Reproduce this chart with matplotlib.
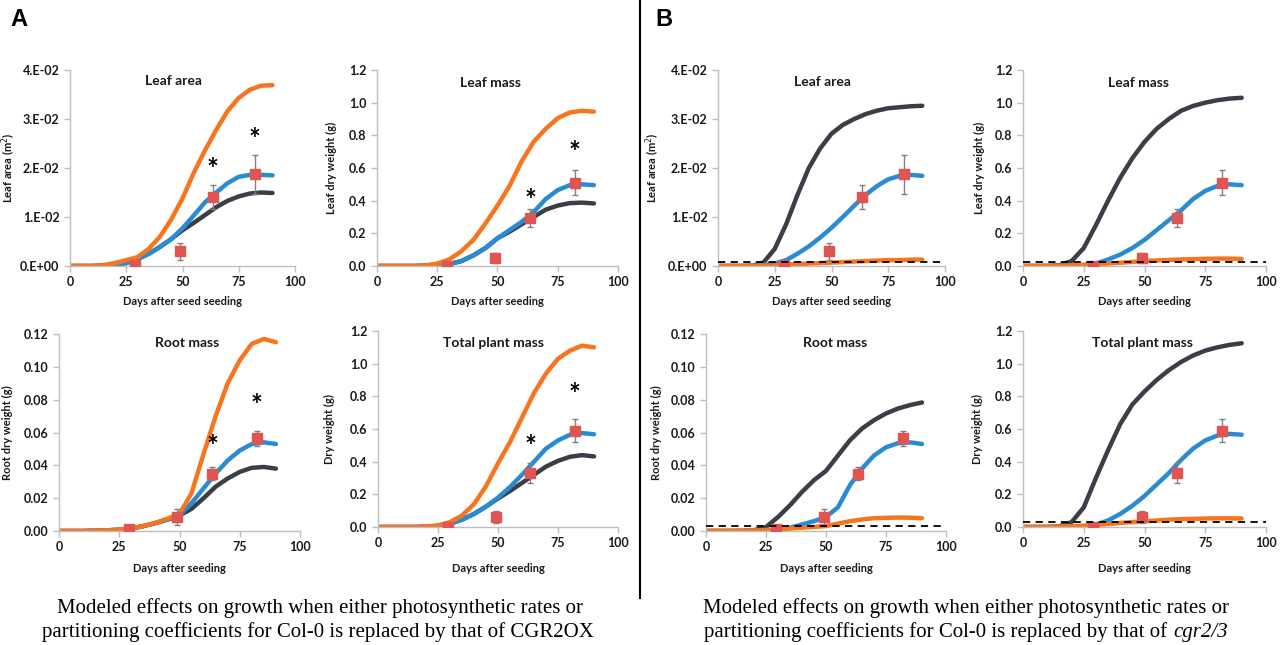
import matplotlib
matplotlib.use("Agg")
import matplotlib.pyplot as plt

plt.rcParams['font.family'] = ['Lato', 'DejaVu Sans']

days = [0, 5, 10, 15, 20, 25, 30, 35, 40, 45, 50, 55, 60, 65, 70, 75, 80, 85, 90]
x_ticks = [0, 25, 50, 75, 100]

# ---- observed data (same for A and B) ----
obs_days = [29, 49, 63.5, 82]
obs_leaf_area = [0.0003, 0.003, 0.0141, 0.0187]
obs_leaf_area_err = [0.0002, 0.0017, 0.0025, 0.004]
obs_leaf_mass = [0.0, 0.05, 0.295, 0.51]
obs_leaf_mass_err = [0.005, 0.03, 0.055, 0.078]
obs_root_mass = [0.001, 0.0085, 0.035, 0.0565]
obs_root_mass_err = [0.0005, 0.005, 0.004, 0.0045]
obs_total_mass = [0.0, 0.06, 0.33, 0.59]
obs_total_mass_err = [0.005, 0.035, 0.06, 0.07]

# ---- Panel A model curves ----
A_leaf_area_orange = [0, 0, 0, 0.0002, 0.0006, 0.0012, 0.0018, 0.0035, 0.006, 0.0095, 0.0138, 0.019, 0.0236, 0.0278, 0.0316, 0.0343, 0.036, 0.0368, 0.0369]
A_leaf_area_blue = [0, 0, 0, 0.0001, 0.0003, 0.0006, 0.0014, 0.0025, 0.0039, 0.0055, 0.0077, 0.0103, 0.013, 0.015, 0.0169, 0.0182, 0.0186, 0.0186, 0.0185]
A_leaf_area_black = [0, 0, 0, 0.0001, 0.0003, 0.0006, 0.0014, 0.0025, 0.0039, 0.0055, 0.0073, 0.0088, 0.0104, 0.012, 0.0133, 0.0142, 0.0148, 0.0150, 0.0149]

A_leaf_mass_orange = [0, 0, 0, 0, 0.003, 0.015, 0.04, 0.09, 0.16, 0.26, 0.37, 0.49, 0.64, 0.76, 0.84, 0.905, 0.94, 0.95, 0.945]
A_leaf_mass_blue = [0, 0, 0, 0, 0.002, 0.006, 0.012, 0.03, 0.065, 0.11, 0.17, 0.22, 0.27, 0.33, 0.41, 0.465, 0.495, 0.50, 0.495]
A_leaf_mass_black = [0, 0, 0, 0, 0.002, 0.006, 0.012, 0.03, 0.065, 0.11, 0.17, 0.21, 0.255, 0.30, 0.345, 0.37, 0.385, 0.388, 0.383]

A_root_mass_orange = [0, 0, 0, 0.0002, 0.0004, 0.0008, 0.0015, 0.003, 0.005, 0.0075, 0.0105, 0.023, 0.047, 0.070, 0.090, 0.104, 0.114, 0.117, 0.115]
A_root_mass_blue = [0, 0, 0, 0.0002, 0.0004, 0.0008, 0.0015, 0.003, 0.0048, 0.007, 0.0095, 0.017, 0.026, 0.035, 0.043, 0.049, 0.053, 0.054, 0.053]
A_root_mass_black = [0, 0, 0, 0.0002, 0.0004, 0.0008, 0.0015, 0.003, 0.0048, 0.007, 0.0095, 0.0135, 0.020, 0.027, 0.032, 0.036, 0.0385, 0.039, 0.038]

A_total_mass_orange = [0, 0, 0, 0, 0.003, 0.01, 0.03, 0.07, 0.14, 0.25, 0.39, 0.52, 0.67, 0.82, 0.94, 1.03, 1.08, 1.11, 1.10]
A_total_mass_blue = [0, 0, 0, 0, 0.002, 0.006, 0.02, 0.045, 0.08, 0.125, 0.18, 0.245, 0.32, 0.40, 0.48, 0.53, 0.565, 0.575, 0.568]
A_total_mass_black = [0, 0, 0, 0, 0.002, 0.006, 0.02, 0.045, 0.08, 0.125, 0.175, 0.22, 0.27, 0.32, 0.37, 0.405, 0.43, 0.44, 0.432]

# ---- Panel B model curves ----
B_leaf_area_black = [0, 0, 0, 0.00005, 0.0007, 0.0035, 0.0085, 0.0145, 0.0200, 0.0240, 0.0270, 0.0288, 0.0300, 0.0310, 0.0317, 0.0322, 0.0324, 0.0326, 0.0327]
B_leaf_area_blue = [0, 0, 0, 0.00005, 0.0002, 0.0005, 0.0012, 0.0025, 0.0040, 0.0058, 0.0078, 0.0100, 0.0123, 0.0145, 0.0163, 0.0177, 0.0184, 0.0186, 0.0184]
B_leaf_area_orange = [0, 0.00001, 0.00002, 0.00004, 0.00007, 0.0001, 0.0003, 0.0004, 0.0005, 0.0006, 0.0007, 0.0008, 0.0009, 0.001, 0.0011, 0.0012, 0.0012, 0.0013, 0.0013]
B_leaf_area_cut = 0.00082

B_leaf_mass_black = [0, 0, 0, 0.005, 0.03, 0.11, 0.25, 0.40, 0.54, 0.66, 0.76, 0.84, 0.90, 0.95, 0.98, 1.00, 1.015, 1.025, 1.03]
B_leaf_mass_blue = [0, 0, 0, 0.001, 0.002, 0.005, 0.015, 0.04, 0.07, 0.11, 0.16, 0.22, 0.28, 0.34, 0.41, 0.46, 0.49, 0.50, 0.495]
B_leaf_mass_orange = [0, 0.0005, 0.001, 0.002, 0.004, 0.007, 0.01, 0.015, 0.02, 0.025, 0.03, 0.034, 0.037, 0.04, 0.042, 0.044, 0.045, 0.045, 0.043]
B_leaf_mass_cut = 0.027

B_root_mass_black = [0, 0, 0, 0.0001, 0.0005, 0.0024, 0.0085, 0.0157, 0.0238, 0.031, 0.0366, 0.046, 0.0553, 0.0624, 0.0675, 0.0716, 0.0746, 0.0767, 0.0783]
B_root_mass_blue = [0, 0, 0, 0.0001, 0.0002, 0.0003, 0.001, 0.002, 0.004, 0.006, 0.0085, 0.0145, 0.028, 0.038, 0.046, 0.051, 0.0535, 0.054, 0.053]
B_root_mass_orange = [0, 0.0001, 0.0001, 0.0002, 0.0003, 0.0006, 0.001, 0.0015, 0.002, 0.0025, 0.003, 0.0045, 0.006, 0.007, 0.0078, 0.008, 0.0082, 0.0081, 0.0078]
B_root_mass_cut = 0.003

B_total_mass_black = [0, 0, 0, 0.005, 0.03, 0.12, 0.30, 0.47, 0.63, 0.75, 0.83, 0.90, 0.96, 1.01, 1.05, 1.08, 1.10, 1.115, 1.125]
B_total_mass_blue = [0, 0, 0, 0.001, 0.002, 0.005, 0.015, 0.04, 0.08, 0.13, 0.19, 0.26, 0.33, 0.41, 0.48, 0.53, 0.56, 0.57, 0.565]
B_total_mass_orange = [0, 0.0005, 0.001, 0.003, 0.005, 0.008, 0.012, 0.018, 0.025, 0.03, 0.035, 0.04, 0.045, 0.048, 0.05, 0.052, 0.053, 0.053, 0.052]
B_total_mass_cut = 0.028

# significance stars (panel A)
star_days = [63.5, 82]
A_leaf_area_stars = [0.0195, 0.0257]
A_leaf_mass_stars = [0.40, 0.69]
A_root_mass_stars = [0.051, 0.076]
A_total_mass_stars = [0.49, 0.81]

# axis ticks
leaf_area_ticks = [0, 0.01, 0.02, 0.03, 0.04]
leaf_area_ticklabels = ['0.E+00', '1.E-02', '2.E-02', '3.E-02', '4.E-02']
mass_ticks = [0, 0.2, 0.4, 0.6, 0.8, 1.0, 1.2]
mass_ticklabels = ['0.0', '0.2', '0.4', '0.6', '0.8', '1.0', '1.2']
root_ticks = [0, 0.02, 0.04, 0.06, 0.08, 0.10, 0.12]
root_ticklabels = ['0.00', '0.02', '0.04', '0.06', '0.08', '0.10', '0.12']

ORANGE = '#F7751E'
BLUE = '#2A8BD3'
BLACK = '#3A3E47'
RED = '#E05452'
GRAY = '#BFBFBF'

W, H = 1286, 645
fig = plt.figure(figsize=(W / 100, H / 100), dpi=100)


def make_ax(x0, x1, y0, y1):
    return fig.add_axes([x0 / W, 1 - y1 / H, (x1 - x0) / W, (y1 - y0) / H])


def panel(box, curves, obs, err, ticks, ticklabels, title, title_xy, ylabel, ylab_off,
          xlabel, xlab_off, stars=None, cut=None):
    ax = make_ax(*box)
    wpx = box[1] - box[0]
    hpx = box[3] - box[2]
    for vals, col in curves:
        ax.plot(days, vals, color=col, lw=3.2, solid_capstyle='round', zorder=2)
    if cut is not None:
        ax.plot([0, 100], [cut, cut], color='black', lw=1.3, ls=(0, (4, 3)), zorder=5)
    ax.errorbar(obs_days, obs, yerr=err, fmt='s', color=RED, ms=7, mec=RED,
                ecolor='#808080', elinewidth=1, capsize=2.5, capthick=1, zorder=4)
    if stars is not None:
        for d, s in zip(star_days, stars):
            ax.text(d, s, '*', ha='center', va='center', fontsize=20, fontweight='bold',
                    color='black', zorder=6)
    ax.set_xlim(0, 100)
    ax.set_ylim(ticks[0], ticks[-1])
    ax.set_xticks(x_ticks)
    ax.set_xticklabels([str(t) for t in x_ticks])
    ax.set_yticks(ticks)
    ax.set_yticklabels(ticklabels)
    for s in ['top', 'right']:
        ax.spines[s].set_visible(False)
    for s in ['left', 'bottom']:
        ax.spines[s].set_color(GRAY)
        ax.spines[s].set_linewidth(1)
    ax.tick_params(axis='both', colors=GRAY, labelcolor='#1a1a1a', length=4, width=1,
                   labelsize=9)
    for lab in ax.get_xticklabels() + ax.get_yticklabels():
        lab.set_fontweight('bold')
    ax.set_ylabel(ylabel, fontsize=8, fontweight='bold', color='#1a1a1a')
    ax.yaxis.set_label_coords(-ylab_off / wpx, 0.5)
    ax.set_xlabel(xlabel, fontsize=8, fontweight='bold', color='#1a1a1a')
    ax.xaxis.set_label_coords(0.5, -xlab_off / hpx)
    ax.text(title_xy[0], title_xy[1], title, transform=ax.transAxes, ha='center',
            va='center', fontsize=10, fontweight='bold', color='#1a1a1a')
    ax.patch.set_alpha(0)
    return ax


lab_top = 'Days after seed seeding'
lab_bot = 'Days after seeding'

# Panel A
panel((70, 295, 70, 266),
      [(A_leaf_area_black, BLACK), (A_leaf_area_blue, BLUE), (A_leaf_area_orange, ORANGE)],
      obs_leaf_area, obs_leaf_area_err, leaf_area_ticks, leaf_area_ticklabels,
      'Leaf area', (0.458, 0.944), 'Leaf area (m$^2$)', 52, lab_top, 30,
      stars=A_leaf_area_stars)
panel((377, 618, 70, 266),
      [(A_leaf_mass_black, BLACK), (A_leaf_mass_blue, BLUE), (A_leaf_mass_orange, ORANGE)],
      obs_leaf_mass, obs_leaf_mass_err, mass_ticks, mass_ticklabels,
      'Leaf mass', (0.473, 0.934), 'Leaf dry weight (g)', 40, lab_bot, 30,
      stars=A_leaf_mass_stars)
panel((59, 300, 334, 531),
      [(A_root_mass_black, BLACK), (A_root_mass_blue, BLUE), (A_root_mass_orange, ORANGE)],
      obs_root_mass, obs_root_mass_err, root_ticks, root_ticklabels,
      'Root mass', (0.53, 0.954), 'Root dry weight (g)', 46, lab_bot, 32,
      stars=A_root_mass_stars)
panel((378, 618, 331, 527),
      [(A_total_mass_black, BLACK), (A_total_mass_blue, BLUE), (A_total_mass_orange, ORANGE)],
      obs_total_mass, obs_total_mass_err, mass_ticks, mass_ticklabels,
      'Total plant mass', (0.483, 0.939), 'Dry weight (g)', 43, lab_bot, 36,
      stars=A_total_mass_stars)

# Panel B
panel((718, 945, 70, 266),
      [(B_leaf_area_black, BLACK), (B_leaf_area_blue, BLUE), (B_leaf_area_orange, ORANGE)],
      obs_leaf_area, obs_leaf_area_err, leaf_area_ticks, leaf_area_ticklabels,
      'Leaf area', (0.458, 0.939), 'Leaf area (m$^2$)', 56, lab_top, 30,
      cut=B_leaf_area_cut)
panel((1023, 1266, 70, 266),
      [(B_leaf_mass_black, BLACK), (B_leaf_mass_blue, BLUE), (B_leaf_mass_orange, ORANGE)],
      obs_leaf_mass, obs_leaf_mass_err, mass_ticks, mass_ticklabels,
      'Leaf mass', (0.477, 0.934), 'Leaf dry weight (g)', 38, lab_bot, 30,
      cut=B_leaf_mass_cut)
panel((706, 946, 334, 531),
      [(B_root_mass_black, BLACK), (B_root_mass_blue, BLUE), (B_root_mass_orange, ORANGE)],
      obs_root_mass, obs_root_mass_err, root_ticks, root_ticklabels,
      'Root mass', (0.538, 0.954), 'Root dry weight (g)', 44, lab_bot, 32,
      cut=B_root_mass_cut)
panel((1023, 1266, 331, 527),
      [(B_total_mass_black, BLACK), (B_total_mass_blue, BLUE), (B_total_mass_orange, ORANGE)],
      obs_total_mass, obs_total_mass_err, mass_ticks, mass_ticklabels,
      'Total plant mass', (0.49, 0.939), 'Dry weight (g)', 40, lab_bot, 36,
      cut=B_total_mass_cut)

# Panel letters
fig.text(10 / W, 1 - 20 / H, 'A', fontsize=17, fontweight='bold', va='center', ha='left',
         family=['Liberation Sans', 'DejaVu Sans'])
fig.text(655 / W, 1 - 20 / H, 'B', fontsize=17, fontweight='bold', va='center', ha='left',
         family=['Liberation Sans', 'DejaVu Sans'])

# Divider
fig.add_artist(plt.Line2D([640 / W, 640 / W], [1 - 598 / H, 1.0], color='black', lw=1.5,
                          transform=fig.transFigure))

# Captions
serif = ['Liberation Serif', 'DejaVu Serif']
cap_fs = 15
fig.text(320 / W, 1 - 608 / H,
         'Modeled effects on growth when either photosynthetic rates or',
         ha='center', va='center', fontsize=cap_fs, family=serif)
fig.text(318 / W, 1 - 632 / H,
         'partitioning coefficients for Col-0 is replaced by that of CGR2OX',
         ha='center', va='center', fontsize=cap_fs, family=serif)
fig.text(966 / W, 1 - 608 / H,
         'Modeled effects on growth when either photosynthetic rates or',
         ha='center', va='center', fontsize=cap_fs, family=serif)

# B caption line 2: roman part + italic gene name, centred together
renderer = fig.canvas.get_renderer()
t_rom = fig.text(0, 1 - 632 / H, 'partitioning coefficients for Col-0 is replaced by that of ',
                 ha='left', va='center', fontsize=cap_fs, family=serif)
t_it = fig.text(0, 1 - 632 / H, 'cgr2/3', ha='left', va='center', fontsize=cap_fs,
                family=serif, style='italic')
w_rom = t_rom.get_window_extent(renderer).width
w_it = t_it.get_window_extent(renderer).width
x_start = 966 - (w_rom + w_it) / 2
t_rom.set_x(x_start / W)
t_it.set_x((x_start + w_rom) / W)

fig.savefig('out.png', dpi=100)
